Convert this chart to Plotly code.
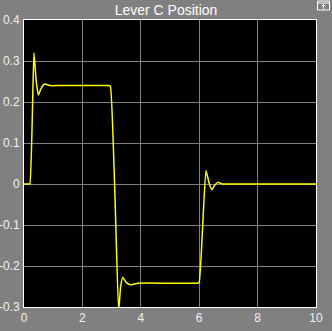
import plotly.graph_objects as go

t = [0, 0.15, 0.2, 0.34, 0.42, 0.49, 0.58, 0.70, 0.9, 1.2, 2.0, 2.9, 2.96, 3.24, 3.31, 3.38, 3.5, 3.63, 3.9, 5.0, 5.95, 6.0, 6.23, 6.33, 6.43, 6.53, 6.63, 6.8, 7.5, 10]
pos = [0, 0, 0, 0.32, 0.25, 0.217, 0.232, 0.244, 0.24, 0.24, 0.24, 0.24, 0.238, -0.31, -0.25, -0.228, -0.24, -0.246, -0.242, -0.242, -0.242, -0.24, 0.033, 0.005, -0.014, -0.003, 0.004, 0, 0, 0]

x_ticks = [0, 2, 4, 6, 8, 10]
y_ticks = [-0.3, -0.2, -0.1, 0, 0.1, 0.2, 0.3, 0.4]
y_labels = ["-0.3", "-0.2", "-0.1", "0", "0.1", "0.2", "0.3", "0.4"]

fig = go.Figure()
fig.add_trace(go.Scatter(x=t, y=pos, mode="lines",
                         line=dict(color="#ffff00", width=1.5, shape="spline", smoothing=0.4),
                         showlegend=False))

# small toolbar icon at top right (pixel positions converted to plot-area paper coords)
W, L, T, B = 292.0, 24.0, 20.0, 307.0
def px(x):
    return (x - L) / W
def py(y):
    return (B - y) / (B - T)

fig.add_shape(type="rect", xref="paper", yref="paper",
              x0=px(317.5), x1=px(329.5), y0=py(10), y1=py(1),
              line=dict(color="#ffffff", width=1), fillcolor="rgba(0,0,0,0)")
fig.add_shape(type="line", xref="paper", yref="paper",
              x0=px(317.5), x1=px(329.5), y0=py(3), y1=py(3),
              line=dict(color="#ffffff", width=1))
fig.add_shape(type="path", xref="paper", yref="paper",
              path=f"M {px(323.5)},{py(9)} L {px(323.5)},{py(4.5)} M {px(321.5)},{py(6.5)} L {px(323.5)},{py(4.5)} L {px(325.5)},{py(6.5)}",
              line=dict(color="#ffffff", width=1))

fig.update_layout(
    width=332, height=331,
    margin=dict(l=24, r=16, t=20, b=24),
    paper_bgcolor="#808080",
    plot_bgcolor="#000000",
    font=dict(family="Liberation Sans, Arial, sans-serif", color="#f0f0f0", size=12),
    title=dict(text="Lever C Position", x=0.5, xanchor="center", y=0.985, yanchor="top",
               font=dict(size=14, color="#ffffff")),
)
fig.update_xaxes(range=[0, 10], tickvals=x_ticks, ticktext=[str(v) for v in x_ticks],
                 showgrid=True, gridcolor="#808080", gridwidth=1, zeroline=False,
                 showline=True, linecolor="#ffffff", linewidth=1, mirror=True,
                 ticks="", automargin=False, tickfont=dict(size=12, color="#f0f0f0"))
fig.update_yaxes(range=[-0.3, 0.4], tickvals=y_ticks, ticktext=y_labels,
                 showgrid=True, gridcolor="#808080", gridwidth=1, zeroline=False,
                 showline=True, linecolor="#ffffff", linewidth=1, mirror=True,
                 ticks="", automargin=False, ticklabelstandoff=1,
                 tickfont=dict(size=12, color="#f0f0f0"))

fig.write_html("out.html")
